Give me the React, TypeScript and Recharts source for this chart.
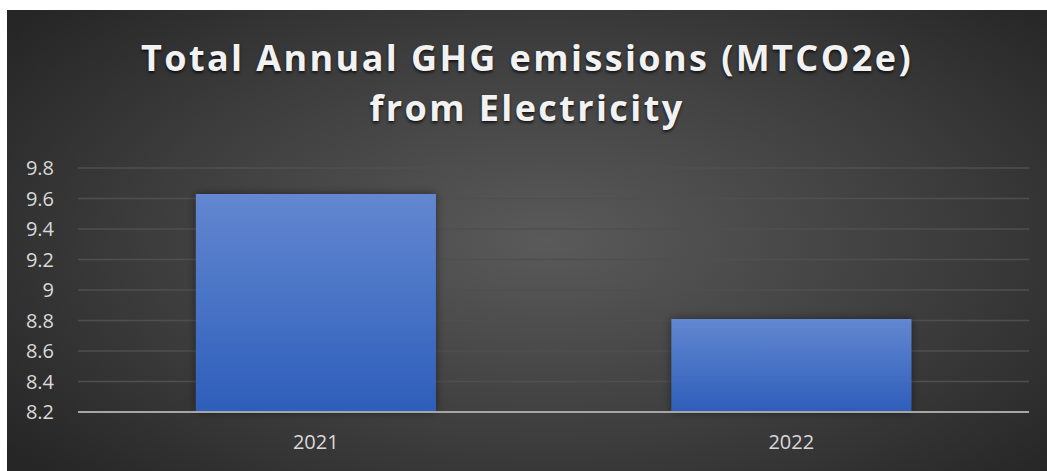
import { BarChart, Bar, XAxis, YAxis, CartesianGrid } from 'recharts';

const years = ['2021', '2022'];
const emissions = [9.63, 8.81];
const yTicks = [8.2, 8.4, 8.6, 8.8, 9, 9.2, 9.4, 9.6, 9.8];
const titleLines = ['Total Annual GHG emissions (MTCO2e)', 'from Electricity'];

const data = years.map((year, i) => ({ year, value: emissions[i] }));

const tickStyle = { fill: '#d9d9d9', fontSize: 20, fontFamily: '"Open Sans", sans-serif' };

export default function App() {
    return (
        <div
            style={{
                position: 'absolute',
                left: 7,
                top: 10,
                width: 1040,
                height: 461,
                overflow: 'hidden',
                background: 'radial-gradient(ellipse 65% 75% at 52% 50%, #5a5a5a 0%, #3c3c3c 60%, #262626 100%)',
            }}
        >
            <div
                style={{
                    position: 'absolute',
                    left: 0,
                    top: 23,
                    width: 1040,
                    textAlign: 'center',
                    color: '#f2f2f2',
                    fontFamily: '"Open Sans", sans-serif',
                    fontWeight: 700,
                    fontSize: 36,
                    lineHeight: '50px',
                    letterSpacing: 2.4,
                    textShadow: '0 2px 3px rgba(0,0,0,0.7)',
                }}
            >
                {titleLines.map((line) => (
                    <div key={line}>{line}</div>
                ))}
            </div>
            <BarChart
                width={1040}
                height={461}
                data={data}
                margin={{ top: 158, right: 18, bottom: 0, left: 0 }}
                barCategoryGap="24.8%"
            >
                <defs>
                    <linearGradient id="barFill" x1="0" y1="0" x2="0" y2="1">
                        <stop offset="0%" stopColor="#6387d0" />
                        <stop offset="100%" stopColor="#2d5eba" />
                    </linearGradient>
                    <filter id="barShadow" x="-20%" y="-20%" width="140%" height="140%">
                        <feDropShadow dx="0" dy="0" stdDeviation="5" floodColor="#000" floodOpacity="0.45" />
                    </filter>
                </defs>
                <CartesianGrid vertical={false} stroke="#4f4f4f" strokeWidth={1.5} />
                <XAxis
                    dataKey="year"
                    height={59}
                    axisLine={{ stroke: '#a6a6a6', strokeWidth: 2 }}
                    tickLine={false}
                    tickSize={0}
                    tickMargin={23}
                    tick={tickStyle}
                />
                <YAxis
                    domain={[8.2, 9.8]}
                    ticks={yTicks}
                    interval={0}
                    width={71}
                    axisLine={false}
                    tickLine={false}
                    tickSize={0}
                    tickMargin={24}
                    tick={tickStyle}
                    tickFormatter={(v: number) => String(v)}
                />
                <Bar dataKey="value" fill="url(#barFill)" filter="url(#barShadow)" isAnimationActive={false} />
            </BarChart>
        </div>
    );
}
